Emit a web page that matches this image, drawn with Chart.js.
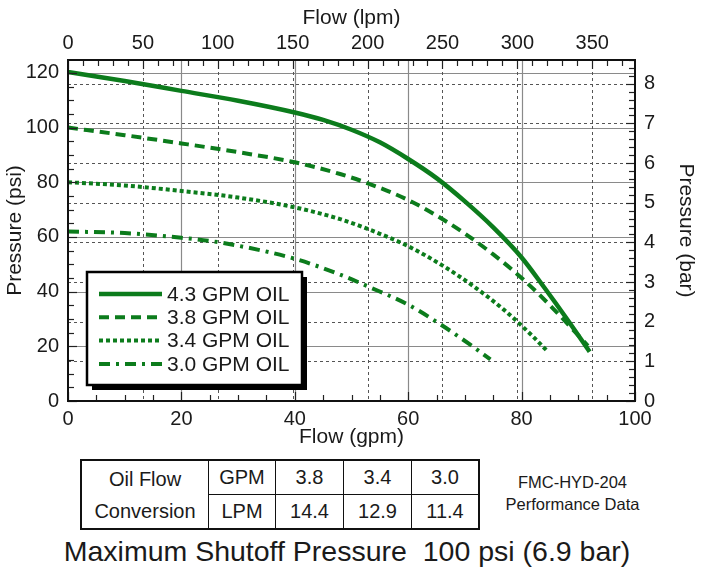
<!DOCTYPE html>
<html>
<head>
<meta charset="utf-8">
<script src="https://cdn.jsdelivr.net/npm/chart.js@4.4.1/dist/chart.umd.min.js"></script>
<style>
body{margin:0;background:#fff;font-family:"Liberation Sans",Arial,sans-serif;color:#1a1a1a;}
#wrap{position:relative;width:702px;height:579px;overflow:hidden;}
#myChart{position:absolute;left:0;top:0;}
#conv{position:absolute;left:80px;top:459px;border-collapse:collapse;border:2px solid #111;}
#conv td{border:1.5px solid #111;text-align:center;font-size:20px;height:33px;padding:0;}
#note{position:absolute;left:500px;top:471px;width:145px;text-align:center;font-size:16.5px;line-height:22px;}
#shutoff{position:absolute;left:0;width:694px;top:535px;text-align:center;font-size:28.5px;white-space:pre;}
</style>
</head>
<body>
<div id="wrap">
<canvas id="myChart" width="702" height="450"></canvas>
<table id="conv">
 <tr><td rowspan="2" style="width:126px;line-height:32px">Oil Flow<br>Conversion</td><td style="width:66px" id="h0"></td><td style="width:67px" class="g"></td><td style="width:67px" class="g"></td><td style="width:66px" class="g"></td></tr>
 <tr><td id="h1"></td><td class="l"></td><td class="l"></td><td class="l"></td></tr>
</table>
<div id="note">FMC-HYD-204<br>Performance Data</div>
<div id="shutoff">Maximum Shutoff Pressure  100 psi (6.9 bar)</div>
</div>
<script>
// curves: flow (gpm) vs pressure (psi)
const gpm43=[0,10,20,30,40,45,50,55,60,65,70,75,80,84,88,92];
const psi43=[120.3,117,113.4,109.8,105.5,102.8,99.2,94.6,88.5,81.5,73,63.5,52.5,41.5,30,18];
const gpm38=[0,10,20,30,40,48,53,60,65,70,75,80,85,90,91.7];
const psi38=[100,97.2,94.2,91,87.3,83,79.5,73.5,67.8,61.2,53.6,45,35,24,20.2];
const gpm34=[0,10,20,30,40,48,53,60,66,71.5,76.8,81.8,84.5];
const psi34=[80,78.8,76.8,74.4,70.8,66.5,62.8,56.6,49.6,42,33.5,24,18.3];
const gpm30=[0,10,20,27,40,48,53,60,66,71,74.5];
const psi30=[62,61.4,59.7,57.9,52,46.2,41.8,35.2,27.6,20.5,15.2];
const seriesNames=['4.3 GPM OIL','3.8 GPM OIL','3.4 GPM OIL','3.0 GPM OIL'];

const gpmTicks=[0,20,40,60,80,100];
const lpmTicks=[0,50,100,150,200,250,300,350];
const psiTicks=[0,20,40,60,80,100,120];
const barTicks=[0,1,2,3,4,5,6,7,8];

// conversion table
const convHead=['GPM','LPM'];
const convGpm=['3.8','3.4','3.0'];
const convLpm=['14.4','12.9','11.4'];

const LPM_PER_GPM=3.78541, PSI_PER_BAR=14.5038;
const PSI_MAX=124.7;
const green='#0c7c1c';
const txt='#1a1a1a';

document.getElementById('h0').innerText=convHead[0];
document.getElementById('h1').innerText=convHead[1];
document.querySelectorAll('#conv .g').forEach((td,i)=>td.innerText=convGpm[i]);
document.querySelectorAll('#conv .l').forEach((td,i)=>td.innerText=convLpm[i]);

function pts(xs,ys){return xs.map((x,i)=>({x:x,y:ys[i]}));}
function steps(from,to,step){const a=[];for(let v=from;v<=to+1e-9;v+=step)a.push(+v.toFixed(3));return a;}

const styles=[
 {w:4.5,dash:[]},
 {w:4,dash:[10,6]},
 {w:4,dash:[4,3]},
 {w:4,dash:[11,6,3,6]}
];

const tickFont={family:'"Liberation Sans", Arial, sans-serif',size:20};
const titleFont={family:'"Liberation Sans", Arial, sans-serif',size:21};
const setTicks=arr=>s=>{s.ticks=arr.map(v=>({value:v}));};
const noGrid={display:false,drawTicks:false};

const paper={
 id:'paper',
 beforeDatasetsDraw(chart){
  const {ctx,chartArea:a,scales:s}=chart;
  ctx.save();
  const h=y=>{ctx.beginPath();ctx.moveTo(a.left,y);ctx.lineTo(a.right,y);ctx.stroke();};
  const v=x=>{ctx.beginPath();ctx.moveTo(x,a.top);ctx.lineTo(x,a.bottom);ctx.stroke();};
  ctx.lineWidth=1.2;ctx.strokeStyle='#8a8a8a';
  psiTicks.slice(1).forEach(p=>h(Math.round(s.y.getPixelForValue(p))+0.5));
  gpmTicks.slice(1,-1).forEach(g=>v(Math.round(s.x.getPixelForValue(g))+0.5));
  ctx.lineWidth=1;ctx.strokeStyle='#555';ctx.setLineDash([3,3]);
  barTicks.slice(1).forEach(b=>h(Math.round(s.yBar.getPixelForValue(b))+0.5));
  lpmTicks.slice(1).forEach(l=>v(Math.round(s.xTop.getPixelForValue(l))+0.5));
  ctx.restore();
 },
 afterDatasetsDraw(chart){
  const {ctx,chartArea:a,scales:s}=chart;
  ctx.save();
  // inward tick marks
  ctx.strokeStyle='#222';ctx.lineWidth=1.2;
  const tk=(x1,y1,x2,y2)=>{ctx.beginPath();ctx.moveTo(x1,y1);ctx.lineTo(x2,y2);ctx.stroke();};
  steps(0,120,5).forEach(p=>{const y=Math.round(s.y.getPixelForValue(p))+0.5;tk(a.left,y,a.left+(p%20?6:9),y);});
  steps(0,8.6,0.2).forEach(b=>{const y=Math.round(s.yBar.getPixelForValue(b))+0.5;const big=Math.abs(b-Math.round(b))<1e-6;tk(a.right,y,a.right-(big?9:6),y);});
  steps(0,100,5).forEach(g=>{const x=Math.round(s.x.getPixelForValue(g))+0.5;tk(x,a.bottom,x,a.bottom-(g%20?6:9));});
  steps(0,370,10).forEach(l=>{const x=Math.round(s.xTop.getPixelForValue(l))+0.5;tk(x,a.top,x,a.top+(l%50?6:9));});
  // frame
  ctx.lineWidth=2;ctx.strokeStyle='#111';
  ctx.strokeRect(a.left,a.top,a.right-a.left,a.bottom-a.top);
  // legend box with drop shadow
  const lx=a.left+19,ly=a.top+212,lw=215,lh=113;
  ctx.fillStyle='#000';ctx.fillRect(lx+5,ly+5,lw,lh);
  ctx.fillStyle='#fff';ctx.fillRect(lx,ly,lw,lh);
  ctx.lineWidth=2.5;ctx.strokeStyle='#000';ctx.strokeRect(lx,ly,lw,lh);
  ctx.font='21px "Liberation Sans", Arial, sans-serif';
  ctx.textBaseline='middle';
  chart.data.datasets.forEach((ds,i)=>{
   const y=ly+22+i*23.3;
   ctx.strokeStyle=ds.borderColor;ctx.lineWidth=ds.borderWidth;
   ctx.setLineDash(ds.borderDash);
   ctx.beginPath();ctx.moveTo(lx+12,y);ctx.lineTo(lx+75,y);ctx.stroke();
   ctx.setLineDash([]);
   ctx.fillStyle=txt;ctx.fillText(ds.label,lx+80,y+1);
  });
  ctx.restore();
 }
};

new Chart(document.getElementById('myChart'),{
 type:'line',
 data:{datasets:[
  pts(gpm43,psi43),pts(gpm38,psi38),pts(gpm34,psi34),pts(gpm30,psi30)
 ].map((d,i)=>({
  label:seriesNames[i],data:d,xAxisID:'x',yAxisID:'y',
  borderColor:green,backgroundColor:green,borderWidth:styles[i].w,borderDash:styles[i].dash,
  pointRadius:0,cubicInterpolationMode:'monotone',fill:false,borderCapStyle:'butt'
 }))},
 plugins:[paper],
 options:{
  responsive:false,animation:false,
  layout:{padding:0},
  plugins:{legend:{display:false},tooltip:{enabled:false}},
  scales:{
   x:{type:'linear',position:'bottom',min:0,max:100,afterBuildTicks:setTicks(gpmTicks),
      grid:noGrid,border:{display:false},
      ticks:{font:tickFont,color:txt,padding:6,maxRotation:0,autoSkip:false},
      title:{display:true,text:'Flow (gpm)',font:titleFont,color:txt,padding:{top:2,bottom:0}},
      afterFit:s=>{s.height=49;}},
   xTop:{type:'linear',position:'top',min:0,max:100*LPM_PER_GPM,afterBuildTicks:setTicks(lpmTicks),
      grid:noGrid,border:{display:false},
      ticks:{font:tickFont,color:txt,padding:5,maxRotation:0,autoSkip:false},
      title:{display:true,text:'Flow (lpm)',font:titleFont,color:txt,padding:{top:6,bottom:0}},
      afterFit:s=>{s.height=60;}},
   y:{type:'linear',position:'left',min:0,max:PSI_MAX,afterBuildTicks:setTicks(psiTicks),
      grid:noGrid,border:{display:false},
      ticks:{font:tickFont,color:txt,padding:9},
      title:{display:true,text:'Pressure (psi)',font:titleFont,color:txt,padding:{top:3,bottom:0}},
      afterFit:s=>{s.width=68;}},
   yBar:{type:'linear',position:'right',min:0,max:PSI_MAX/PSI_PER_BAR,afterBuildTicks:setTicks(barTicks),
      grid:noGrid,border:{display:false},
      ticks:{font:tickFont,color:txt,padding:9},
      title:{display:true,text:'Pressure (bar)',font:titleFont,color:txt,padding:{top:4,bottom:0}},
      afterFit:s=>{s.width=67;}}
  }
 }
});
</script>
</body>
</html>
